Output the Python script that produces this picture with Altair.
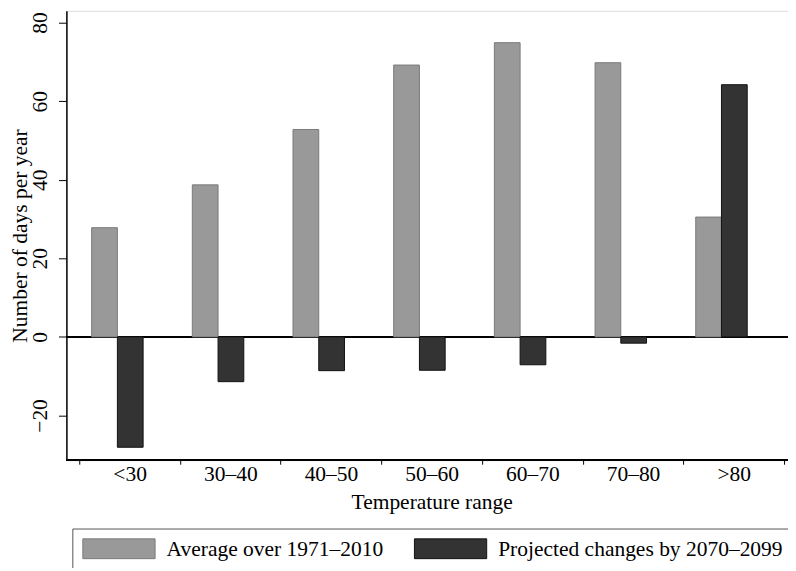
import altair as alt
import pandas as pd

categories = ["<30", "30–40", "40–50", "50–60", "60–70", "70–80", ">80"]
series_names = ["Average over 1971–2010", "Projected changes by 2070–2099"]
average_1971_2010 = [27.8, 38.7, 52.8, 69.2, 74.9, 69.8, 30.5]
projected_change = [-28.1, -11.4, -8.6, -8.5, -7.1, -1.6, 64.2]
y_ticks = [-20, 0, 20, 40, 60, 80]

rows = []
for c, a, p in zip(categories, average_1971_2010, projected_change):
    rows.append({"range": c, "series": series_names[0], "value": a})
    rows.append({"range": c, "series": series_names[1], "value": p})
df = pd.DataFrame(rows)

FONT = "Liberation Serif"
FS = 21.7
W, H = 729, 454
y_scale = alt.Scale(domain=[-31.4, 83.0], nice=False, zero=False)

SWATCH = "M-7.3,-2L7.3,-2L7.3,2L-7.3,2Z"


def make_legend():
    return alt.Legend(title=None, orient="none", legendX=6, legendY=523,
                      direction="horizontal",
                      symbolType=SWATCH, symbolSize=100, symbolStrokeWidth=1,
                      symbolOffset=26.75,
                      labelFontSize=FS, labelFont=FONT, labelColor="black",
                      labelOffset=37.25, labelLimit=500, columnPadding=29, padding=9.5,
                      strokeColor="#555555")


bars = alt.Chart(df).mark_bar(strokeWidth=1, opacity=1).encode(
    x=alt.X("range:N", sort=categories,
            scale=alt.Scale(range=[13, 725], paddingInner=0, paddingOuter=0),
            axis=alt.Axis(title="Temperature range", tickBand="extent", domain=False,
                          tickSize=4, tickColor="black", tickWidth=1,
                          labelAngle=0, labelFontSize=FS, labelFont=FONT, labelColor="black",
                          labelBaseline="alphabetic", labelPadding=16,
                          titleFontSize=FS, titleFont=FONT, titleFontWeight="normal",
                          titleColor="black", titleBaseline="alphabetic", titleY=49)),
    xOffset=alt.XOffset("series:N", sort=series_names,
                        scale=alt.Scale(domain=series_names, range=[12.5, 64.5],
                                        paddingInner=0, paddingOuter=0)),
    y=alt.Y("value:Q", scale=y_scale,
            axis=alt.Axis(title="Number of days per year", values=y_ticks, grid=False,
                          domainColor="black", domainWidth=1.5,
                          tickSize=8, tickColor="black", tickWidth=1,
                          labelAngle=270, labelAlign="center", labelBaseline="alphabetic",
                          labelPadding=12, labelFontSize=FS, labelFont=FONT, labelColor="black",
                          titleFontSize=FS, titleFont=FONT, titleFontWeight="normal",
                          titleColor="black", titleAngle=270, titleAlign="center",
                          titleBaseline="alphabetic", titleX=-40, titleY=227)),
    color=alt.Color("series:N", sort=series_names,
                    scale=alt.Scale(domain=series_names, range=["#999999", "#333333"]),
                    legend=make_legend()),
    stroke=alt.Stroke("series:N", sort=series_names,
                      scale=alt.Scale(domain=series_names, range=["#7a7a7a", "#111111"]),
                      legend=make_legend()),
)

zero_line = alt.Chart(df).mark_rule(color="black", strokeWidth=1.5).encode(
    y=alt.datum(0, scale=y_scale), x=alt.value(0), x2=alt.value(W)
)

bottom_line = alt.Chart(df).mark_rule(color="black", strokeWidth=1.5).encode(
    y=alt.value(H), x=alt.value(0), x2=alt.value(W)
)

chart = alt.layer(zero_line, bars, bottom_line).properties(
    width=W, height=H,
    padding={"left": 59, "top": 0, "right": 0, "bottom": 106},
    autosize=alt.AutoSizeParams(type="none"),
).configure_view(stroke=None).configure(font=FONT, background="white")

chart.save("out.html", embed_options={"renderer": "svg", "actions": False})
